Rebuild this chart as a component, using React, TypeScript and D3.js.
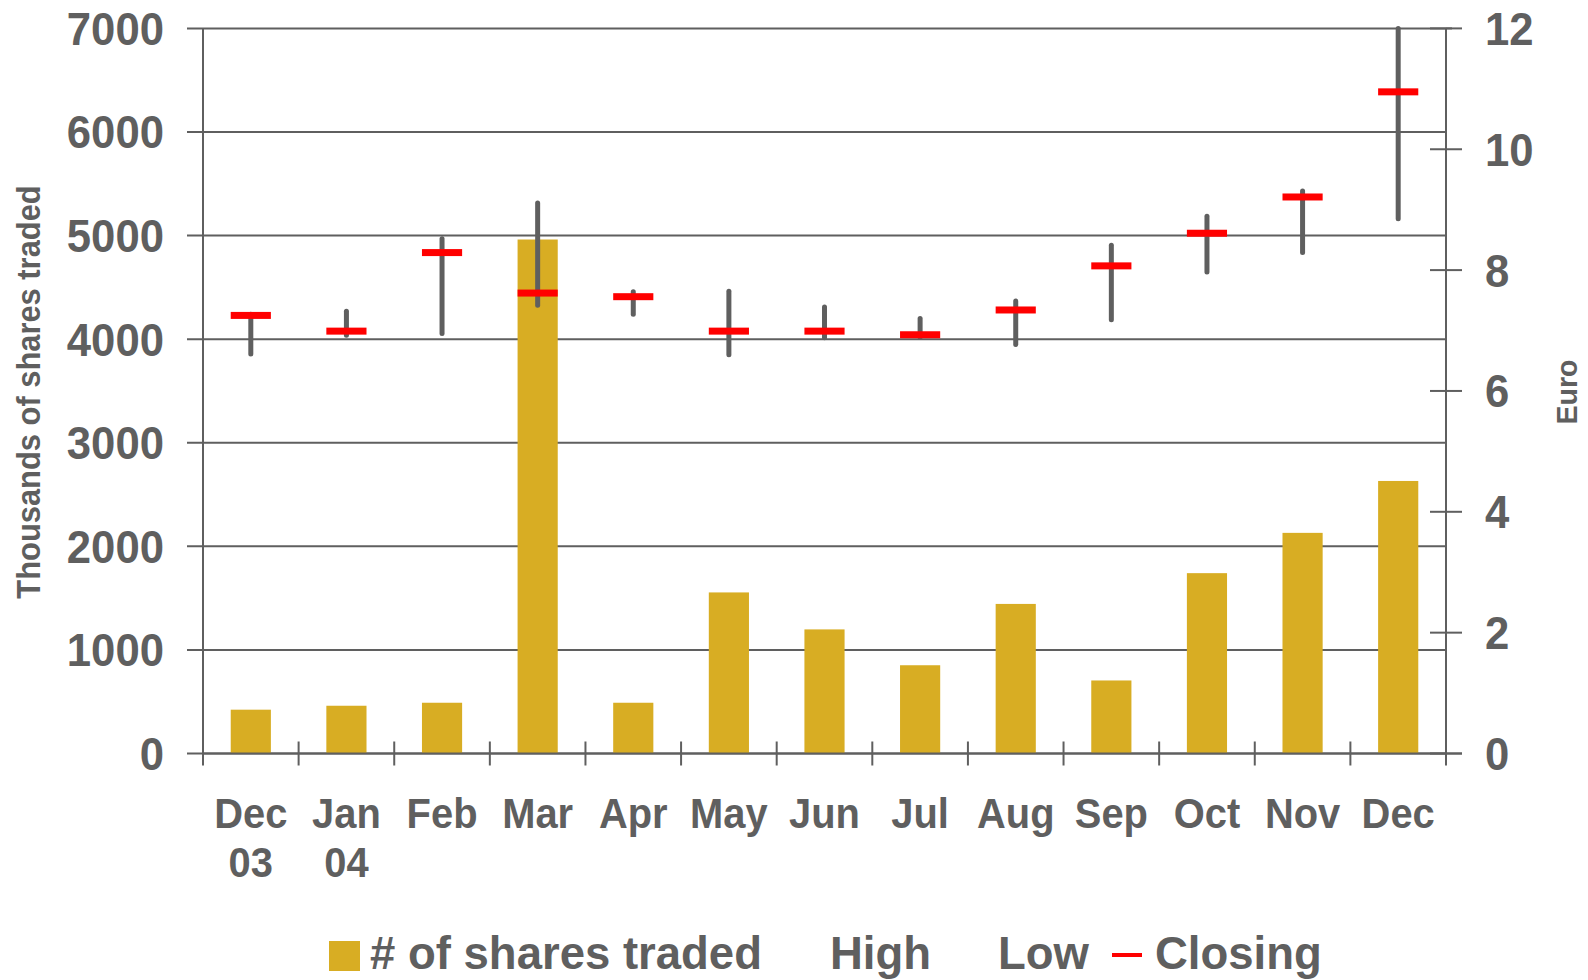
import React from 'react';
import * as d3 from 'd3';

const monthLabels = [['Dec', '03'], ['Jan', '04'], ['Feb'], ['Mar'], ['Apr'], ['May'], ['Jun'], ['Jul'], ['Aug'], ['Sep'], ['Oct'], ['Nov'], ['Dec']];
const sharesTraded = [423, 461, 490, 4962, 490, 1555, 1198, 852, 1444, 705, 1741, 2130, 2631];
const highs = [7.27, 7.32, 8.52, 9.11, 7.64, 7.65, 7.39, 7.2, 7.49, 8.41, 8.89, 9.31, 12.0];
const lows = [6.61, 6.92, 6.95, 7.42, 7.27, 6.6, 6.88, 6.89, 6.77, 7.18, 7.97, 8.29, 8.85];
const closings = [7.25, 6.99, 8.29, 7.62, 7.56, 6.99, 6.99, 6.93, 7.34, 8.07, 8.61, 9.21, 10.95];
const leftTicks = [0, 1000, 2000, 3000, 4000, 5000, 6000, 7000];
const rightTicks = [0, 2, 4, 6, 8, 10, 12];

const W = 1588;
const H = 980;
const margin = { left: 203, right: W - 1446, top: 28.4, bottom: H - 753.5 };
const grey = '#5f5f5f';
const gold = '#d8ad23';
const font = '"Liberation Sans", Arial, Helvetica, sans-serif';

const Label: React.FC<{ x: number; y: number; size: number; anchor?: string; rotate?: number; sx?: number; children: React.ReactNode }> = ({ x, y, size, anchor = 'start', rotate = 0, sx = 0.95, children }) => (
  <text
    transform={`translate(${x},${y}) rotate(${rotate}) scale(${sx},1)`}
    textAnchor={anchor}
    fontSize={size}
    fontFamily={font}
    fontWeight="bold"
    fill={grey}
  >
    {children}
  </text>
);

export default function App() {
  const x0 = margin.left;
  const x1 = W - margin.right;
  const y0 = H - margin.bottom;
  const y1 = margin.top;

  const x = d3.scaleBand<number>().domain(d3.range(monthLabels.length)).range([x0, x1]).padding(0);
  const yShares = d3.scaleLinear().domain([0, 7000]).range([y0, y1]);
  const yEuro = d3.scaleLinear().domain([0, 12]).range([y0, y1]);

  const bw = x.bandwidth();
  const barW = bw * 0.42;
  const markW = bw * 0.42;

  return (
    <svg width={W} height={H} style={{ position: 'absolute', left: 0, top: 0, background: '#fff' }}>
      {/* gridlines + left ticks */}
      {leftTicks.map((t) => (
        <g key={'gl' + t}>
          <line x1={x0 - 16} x2={x1} y1={yShares(t)} y2={yShares(t)} stroke={grey} strokeWidth={2} />
          <Label x={164} y={yShares(t) + 16.5} size={46} anchor="end">{t}</Label>
        </g>
      ))}

      {/* bars */}
      {sharesTraded.map((v, i) => (
        <rect key={'b' + i} x={x(i)! + bw / 2 - barW / 2} y={yShares(v)} width={barW} height={y0 - yShares(v)} fill={gold} />
      ))}

      {/* axes */}
      <line x1={x0} x2={x0} y1={y1} y2={y0 + 12} stroke={grey} strokeWidth={2} />
      <line x1={x1} x2={x1} y1={y1} y2={y0 + 12} stroke={grey} strokeWidth={2} />
      <line x1={x0} x2={x1 + 16} y1={y0} y2={y0} stroke={grey} strokeWidth={2} />
      <line x1={x1} x2={x1 + 6} y1={y1} y2={y1} stroke={grey} strokeWidth={2} />
      {d3.range(1, monthLabels.length).map((i) => (
        <line key={'xt' + i} x1={x(i)!} x2={x(i)!} y1={y0 - 12} y2={y0 + 12} stroke={grey} strokeWidth={2} />
      ))}
      {rightTicks.map((t) => (
        <g key={'rt' + t}>
          <line x1={x1 - 16} x2={x1 + 16} y1={yEuro(t)} y2={yEuro(t)} stroke={grey} strokeWidth={2} />
          <Label x={1485} y={yEuro(t) + 16.5} size={46}>{t}</Label>
        </g>
      ))}

      {/* high-low lines */}
      {highs.map((h, i) => (
        <line
          key={'hl' + i}
          x1={x(i)! + bw / 2}
          x2={x(i)! + bw / 2}
          y1={yEuro(h)}
          y2={yEuro(lows[i])}
          stroke={grey}
          strokeWidth={5}
          strokeLinecap="round"
        />
      ))}

      {/* closing markers */}
      {closings.map((c, i) => (
        <rect key={'c' + i} x={x(i)! + bw / 2 - markW / 2} y={yEuro(c) - 3.5} width={markW} height={7} fill="#ff0000" />
      ))}

      {/* x labels */}
      {monthLabels.map((lines, i) =>
        lines.map((s, j) => (
          <Label key={'xl' + i + j} x={x(i)! + bw / 2} y={828 + j * 49} size={42} anchor="middle">{s}</Label>
        ))
      )}

      {/* axis titles */}
      <Label x={40} y={392} size={32.5} anchor="middle" rotate={-90}>Thousands of shares traded</Label>
      <Label x={1577} y={392} size={30} anchor="middle" rotate={-90}>Euro</Label>

      {/* legend */}
      <rect x={329} y={941} width={31} height={30} fill={gold} />
      <Label x={370} y={969} size={45.5} sx={1}># of shares traded</Label>
      <Label x={830} y={969} size={45.5} sx={1}>High</Label>
      <Label x={998} y={969} size={45.5} sx={1}>Low</Label>
      <line x1={1112} x2={1142} y1={955} y2={955} stroke="#ff0000" strokeWidth={4} />
      <Label x={1155} y={969} size={45.5} sx={1}>Closing</Label>
    </svg>
  );
}
